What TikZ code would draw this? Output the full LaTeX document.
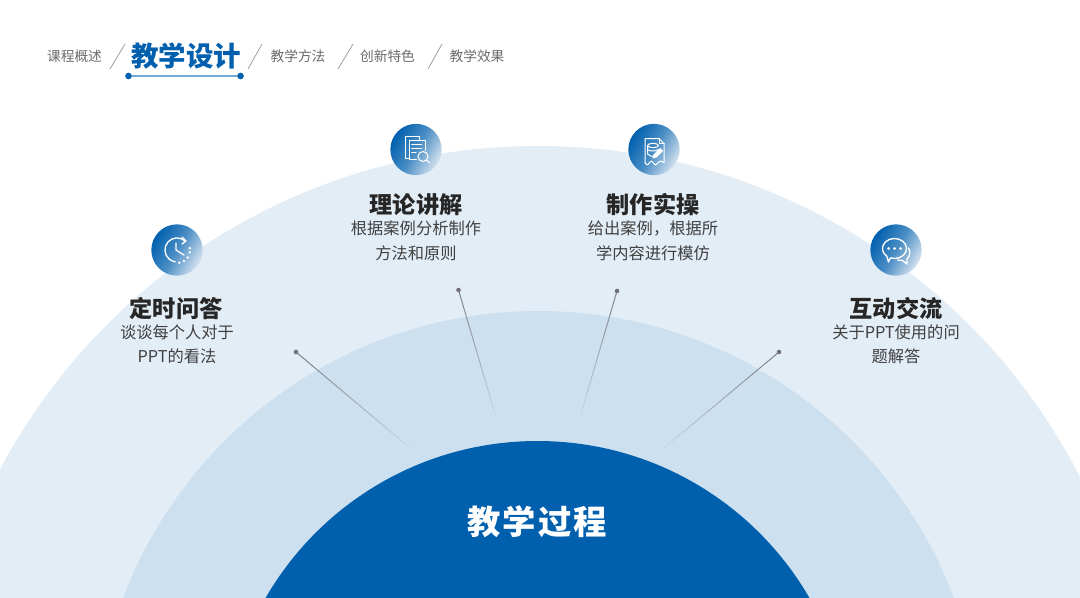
\documentclass[tikz,border=0pt]{standalone}
\usepackage{fontspec}
\setmainfont{Noto Sans CJK SC}
\usetikzlibrary{calc}
\definecolor{outerc}{HTML}{E3EDF6}
\definecolor{midc}{HTML}{CDE0F0}
\definecolor{mainblue}{HTML}{0060AE}
\definecolor{lightend}{HTML}{D4E2EF}
\definecolor{navgray}{HTML}{6B6B6B}
\definecolor{titlec}{HTML}{262626}
\definecolor{bodyc}{HTML}{404040}
\definecolor{dotc}{HTML}{6E6E72}
\newcommand{\pxfont}[1]{\fontsize{#1}{#1}\selectfont}
\tikzset{
  x=0.75pt,y=-0.75pt,
  navtext/.style={text=navgray,font=\pxfont{10.3},inner sep=0,anchor=center},
  navslash/.style={draw=gray!75,line width=0.6pt},
  titletext/.style={text=titlec,font=\pxfont{17.4}\bfseries,inner sep=0,anchor=center},
  bodytext/.style={text=bodyc,font=\pxfont{12.2},inner sep=0,anchor=center,align=center},
  iconbg/.style={circle,minimum size=38.5pt,inner sep=0,left color=mainblue,right color=lightend,middle color=mainblue!65!lightend,shading angle=60},
  iconln/.style={draw=white,line width=0.75pt,line cap=round,line join=round},
  iconscope/.style={y=0.75pt},
  pindot/.style={circle,fill=dotc,minimum size=3.4pt,inner sep=0},
  enddot/.style={circle,fill=mainblue,minimum size=5pt,inner sep=0},
}
\begin{document}
\begin{tikzpicture}
\useasboundingbox (0,0) rectangle (1080,597);
\begin{scope}
\clip (0,0) rectangle (1080,597);
\fill[white] (0,0) rectangle (1080,597);
\fill[outerc] (538,755) circle[radius=609*0.75pt];
\fill[midc] (538.5,755) circle[radius=444*0.75pt];
\fill[mainblue] (537.5,755) circle[radius=314*0.75pt];
\end{scope}
% connectors
\node[pindot] (p1) at (296,352) {};
\node[pindot] (p2) at (458.5,290) {};
\node[pindot] (p3) at (617,291) {};
\node[pindot] (p4) at (779,352) {};
\coordinate (q1) at (410,448);
\coordinate (q2) at (496,417);
\coordinate (q3) at (580,417);
\coordinate (q4) at (664,448);
\foreach \a/\b in {p1/q1,p2/q2,p3/q3,p4/q4}{
  \foreach \i [evaluate=\i as \s using \i/24, evaluate=\i as \t using (\i+1)/24, evaluate=\i as \m using 85-3.4*\i] in {0,...,23}{
    \draw[draw=dotc!\m!midc,line width=0.75pt] ($(\a)!\s!(\b)$) -- ($(\a)!\t!(\b)$);
  }
}
% navigation
\node[navtext] (n1) at (74.5,56) {课程概述};
\node[text=mainblue,font=\pxfont{20.6}\bfseries,inner sep=0] (n2) at (186,56) {教学设计};
\node[navtext] (n3) at (298,56) {教学方法};
\node[navtext] (n4) at (387.5,56) {创新特色};
\node[navtext] (n5) at (477,56) {教学效果};
\draw[navslash] (125,44) -- (110,69);
\draw[navslash] (262,44) -- (248,69);
\draw[navslash] (353,44) -- (338,69);
\draw[navslash] (442,44) -- (428,69);
\node[enddot] (u1) at (128.5,76) {};
\node[enddot] (u2) at (240.5,76) {};
\draw[draw=mainblue!55!white,line width=1pt] (u1) -- (u2);
% centre
\node[text=white,font=\pxfont{25}\bfseries,inner sep=0] (c) at (537,521.5) {教\hspace{1.5pt}学\hspace{1.5pt}过\hspace{1.5pt}程};
% icon discs
\node[iconbg] (i1) at (177,250) {};
\node[iconbg] (i2) at (416,149.5) {};
\node[iconbg] (i3) at (654,149.5) {};
\node[iconbg] (i4) at (896,250) {};
% texts
\node[titletext] (t1) at (176,308.5) {定时问答};
\node[bodytext] (b1) at (177,344.5) {谈谈每个人对于\\[6.2pt]PPT的看法};
\node[titletext] (t2) at (416,204.5) {理论讲解};
\node[bodytext] (b2) at (416,241) {根据案例分析制作\\[6.2pt]方法和原则};
\node[titletext] (t3) at (653,204.5) {制作实操};
\node[bodytext] (b3) at (653,241) {给出案例，根据所\\[6.2pt]学内容进行模仿};
\node[titletext] (t4) at (896,308.5) {互动交流};
\node[bodytext] (b4) at (896,344.5) {关于PPT使用的问\\[6.2pt]题解答};
% clock icon (y up)
\begin{scope}[shift={(i1.center)},iconscope]
\draw[iconln,line width=1pt] (8,9) arc[start angle=48,end angle=262,radius=12];
\draw[iconln,line width=1pt] (-1,7) -- (-1,0) -- (7,-5);
\draw[iconln,line width=1pt] (5,13) -- (9,9) -- (5,6);
\foreach \an in {8,-10,-35,-58,-80}{\fill[white] (\an:13) circle[radius=1.35];}
\end{scope}
% document icon
\begin{scope}[shift={(i2.center)},iconscope]
\draw[iconln] (3.5,9.5) -- (3.5,13) -- (-11,13) -- (-11,-8.5) -- (-7,-8.5);
\draw[iconln] (0.5,-10) -- (-7,-10) -- (-7,9.5) -- (9,9.5) -- (9,-1);
\draw[iconln] (-4.5,5.5) -- (5.5,5.5);
\draw[iconln] (-4.5,1.5) -- (5.5,1.5);
\draw[iconln] (-4.5,-2.5) -- (0,-2.5);
\draw[iconln] (7,-7) circle[radius=5];
\draw[iconln] (10.5,-10.5) -- (14,-13.5);
\end{scope}
% receipt icon
\begin{scope}[shift={(i3.center)},iconscope]
\draw[iconln] (-9,-13) -- (-9,11) -- (5,11) -- (10,6) -- (10,-13);
\draw[iconln] (5,11) -- (5,6) -- (10,6);
\draw[iconln] (-9,-13) .. controls (-7.5,-16) and (-6,-16) .. (-4.5,-13) .. controls (-3,-11) and (-2,-11) .. (-0.5,-13.5) .. controls (1,-16) and (2,-16) .. (3.5,-13.5) .. controls (5,-11) and (8,-11) .. (10,-13);
\draw[iconln] (-1,4) ellipse[x radius=5.5,y radius=2.2];
\draw[iconln] (-6.5,4) -- (-6.5,-4.5) .. controls (-5,-7) and (-1,-7) .. (0,-6.5);
\draw[iconln] (-6.5,0) .. controls (-4.5,-2) and (1,-2) .. (4.5,0);
\fill[white] (-1.5,-9) -- (-0.5,-5) -- (6,1.5) -- (9,-1.5) -- (2.5,-8) -- cycle;
\end{scope}
% chat icon
\begin{scope}[shift={(i4.center)},iconscope]
\draw[iconln,line width=1pt] (-5.6,-7.9) arc[start angle=-110,end angle=230,x radius=12,y radius=10] -- (-7.5,-12) -- cycle;
\draw[iconln,line width=1pt] (12.5,2) .. controls (15,-2) and (14,-6) .. (11,-9) -- (11,-14) -- (6.5,-10.5) -- (1.5,-10);
\foreach \dx in {-6,0,6}{\fill[white] (\dx-1.5,1.5) circle[radius=1.5];}
\end{scope}
\end{tikzpicture}
\end{document}
